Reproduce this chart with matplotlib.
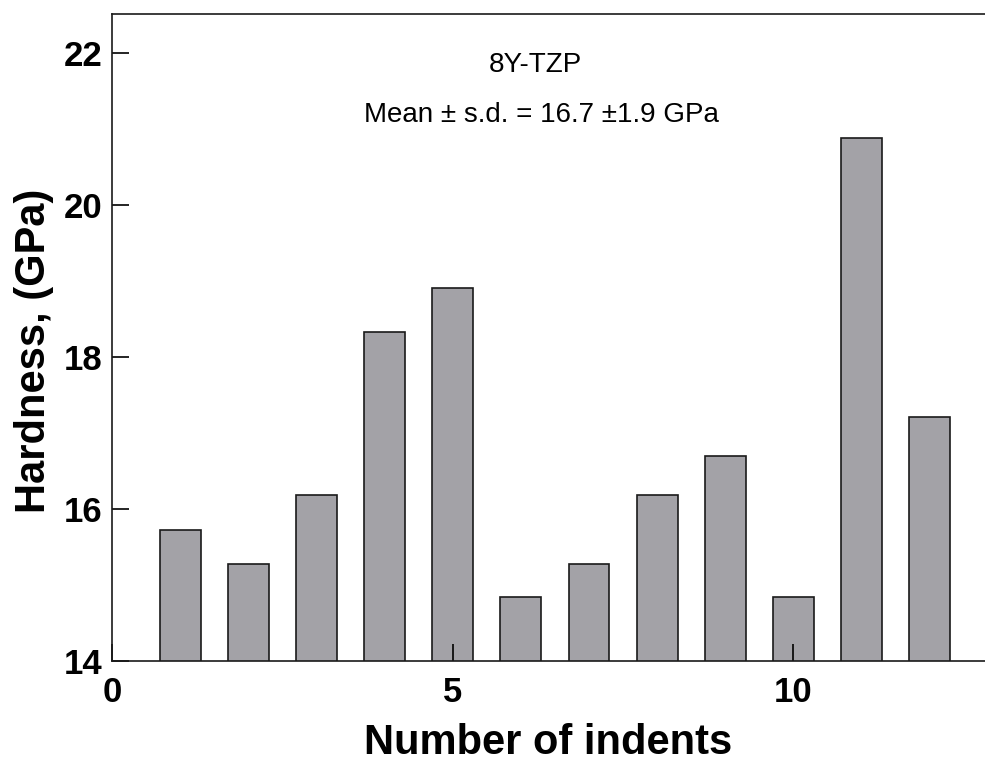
import matplotlib

matplotlib.use("Agg")
import matplotlib.pyplot as plt

# hardness of each indent
indents = [1, 2, 3, 4, 5, 6, 7, 8, 9, 10, 11, 12]
hardness = [15.72, 15.28, 16.19, 18.33, 18.91, 14.84, 15.28, 16.19, 16.70, 14.84, 20.89, 17.21]
x_ticks = [0, 5, 10]
y_ticks = [14, 16, 18, 20, 22]

plt.rcParams["font.family"] = ["Liberation Sans", "DejaVu Sans"]

fig = plt.figure(figsize=(9.85, 7.65), dpi=100)
ax = fig.add_axes([112 / 985, 104 / 765, 873 / 985, 647 / 765])

ax.bar(indents, hardness, width=0.6, bottom=0, color="#a3a2a7", edgecolor="#1a1a1a", linewidth=1.2)

ax.set_xlim(0, 12.81)
ax.set_ylim(14, 22.52)
ax.set_xticks(x_ticks)
ax.set_yticks(y_ticks)
ax.tick_params(axis="x", direction="in", length=12, width=1.2, pad=11, labelsize=25)
ax.tick_params(axis="y", direction="in", length=12, width=1.2, pad=7, labelsize=25)
for lab in ax.get_xticklabels() + ax.get_yticklabels():
    lab.set_fontweight("bold")

ax.spines["right"].set_visible(False)
for side in ("left", "top", "bottom"):
    ax.spines[side].set_linewidth(1.2)
    ax.spines[side].set_color("#1a1a1a")

ax.set_xlabel("Number of indents", fontsize=30, fontweight="bold", labelpad=10)
ax.set_ylabel("Hardness, (GPa)", fontsize=30, fontweight="bold")
ax.yaxis.set_label_coords(-0.067, 0.48)

ax.text(6.21, 21.85, "8Y-TZP", ha="center", va="center", fontsize=20)
ax.text(6.30, 21.19, "Mean \u00b1 s.d. = 16.7 \u00b11.9 GPa", ha="center", va="center", fontsize=20)

fig.savefig("out.png", dpi=100)
